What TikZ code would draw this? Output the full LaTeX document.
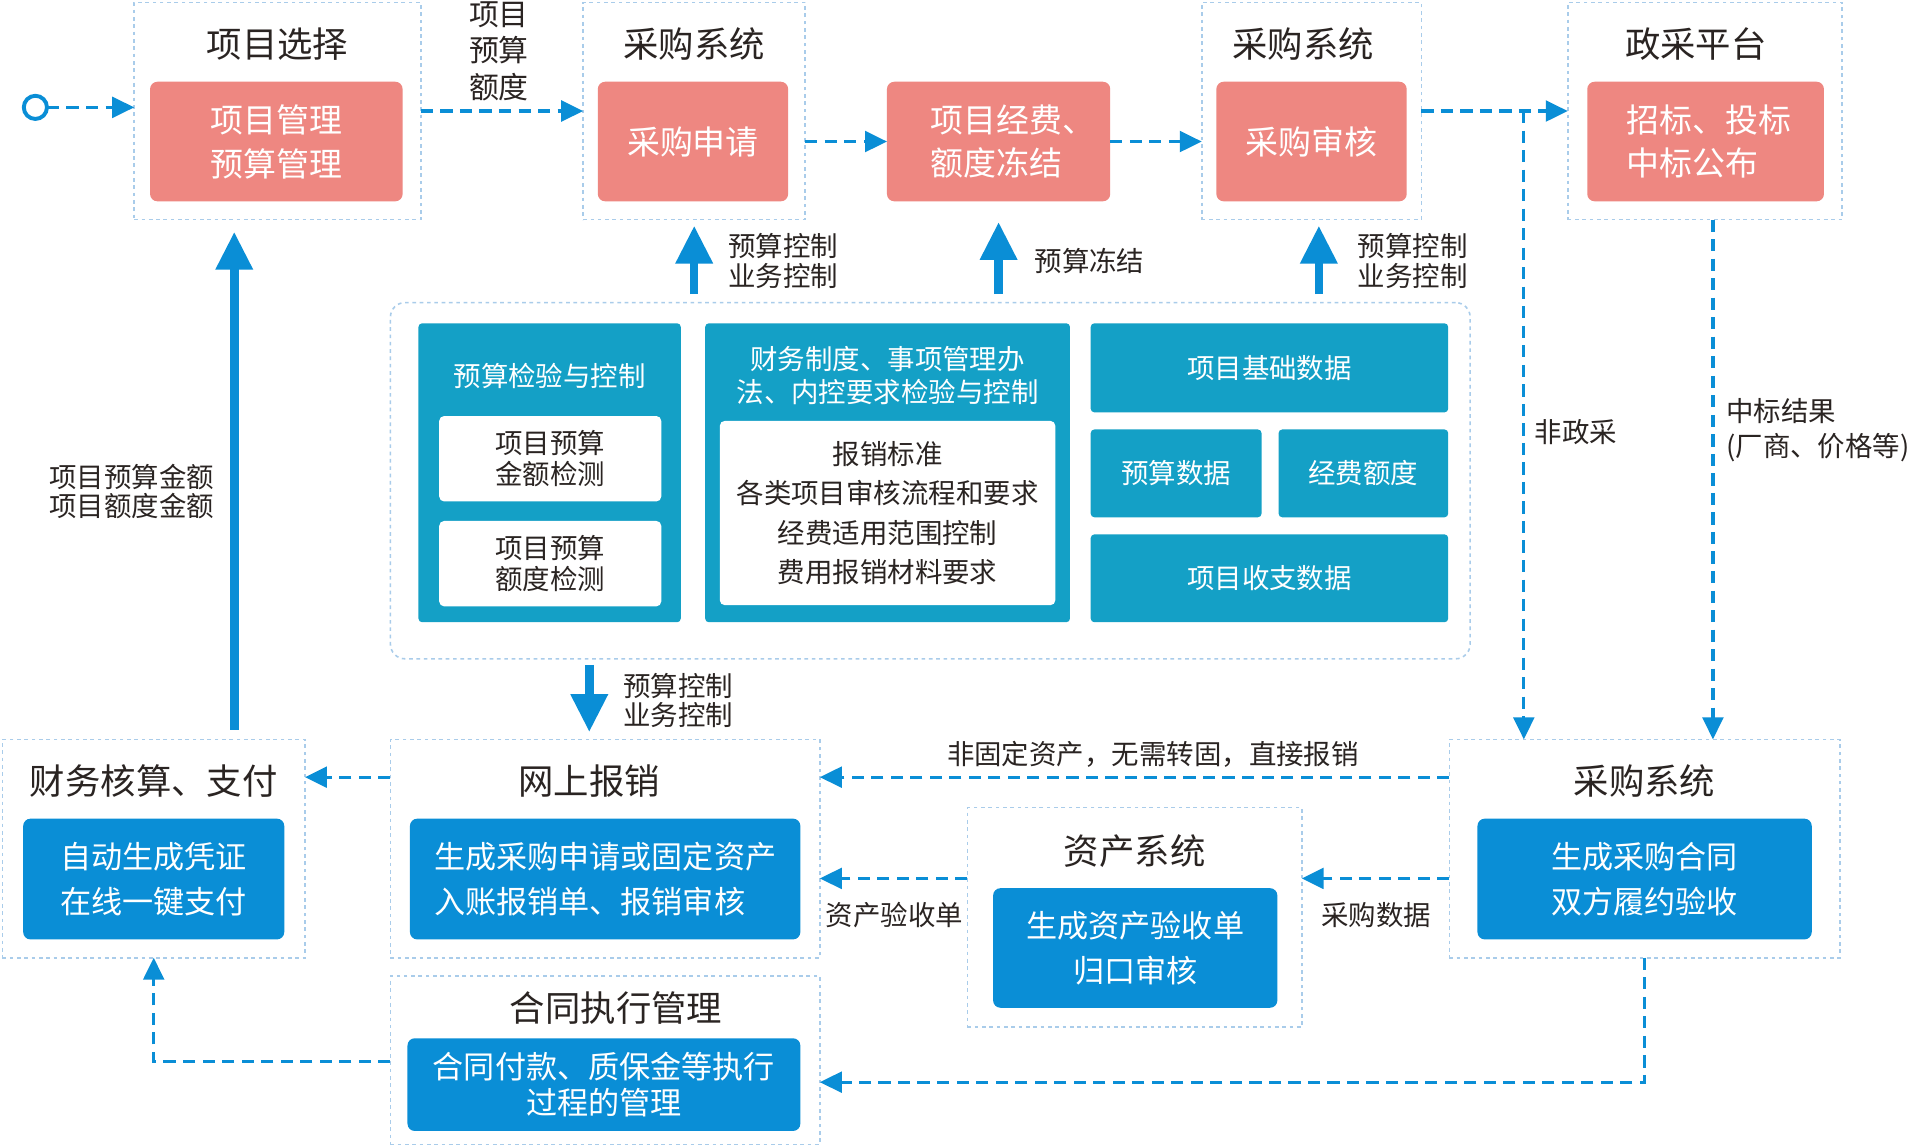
\documentclass[tikz,border=0pt]{standalone}
\usepackage{fontspec}
\setmainfont{Noto Sans CJK SC}
\usetikzlibrary{arrows.meta,calc}
\definecolor{pinkc}{HTML}{EE8781}
\definecolor{tealc}{HTML}{14A0C6}
\definecolor{bluec}{HTML}{0A8ED6}
\definecolor{arrc}{HTML}{0A8ED6}
\definecolor{framec}{HTML}{A9CCEA}
\definecolor{txtc}{HTML}{2A2422}
\newcommand\szT{\fontsize{29}{34}\selectfont}
\newcommand\szP{\fontsize{27}{36}\selectfont}
\newcommand\szB{\fontsize{25.5}{37}\selectfont}
\newcommand\szS{\fontsize{22.5}{24}\selectfont}
\begin{document}
\begin{tikzpicture}[x=1pt,y=-1pt,
  box/.style={rectangle, inner sep=0pt, outer sep=0pt, align=center},
  frame/.style={box, draw=framec, line width=1.3pt, dash pattern=on 3pt off 3pt},
  pinkbox/.style={box, fill=pinkc, rounded corners=6pt, text=white, font=\szP},
  tealbox/.style={box, fill=tealc, rounded corners=3pt, text=white, font=\szS},
  whitebox/.style={box, fill=white, rounded corners=4pt, text=txtc, font=\szS},
  bluebox/.style={box, fill=bluec, rounded corners=6pt, text=white, font=\szB},
  title/.style={box, text=txtc, font=\szT},
  lbl/.style={box, text=txtc, font=\szS},
  darr/.style={draw=arrc, line width=2.6pt, dash pattern=on 10pt off 6pt, -{Triangle[length=18pt,width=17pt]}},
  tarr/.style={draw=arrc, line width=7pt, -{Triangle[length=31pt,width=29pt]}},
]
\useasboundingbox[fill=white] (0,0) rectangle (1568,940);

% ---------- top row ----------
\node[frame, minimum width=235pt, minimum height=178pt] (f1) at (227.5,91) {};
\node[frame, minimum width=182pt, minimum height=178pt] (f2) at (569,91) {};
\node[frame, minimum width=180pt, minimum height=178pt] (f3) at (1075,91) {};
\node[frame, minimum width=225pt, minimum height=178pt] (f4) at (1397.5,91) {};
\node[title] (t1) at (227.5,36) {项目选择};
\node[title] (t2) at (569,36) {采购系统};
\node[title] (t3) at (1068,36) {采购系统};
\node[title] (t4) at (1390,36) {政采平台};
\node[pinkbox, minimum width=207pt, minimum height=98pt] (p1) at (226.5,116) {项目管理\\预算管理};
\node[pinkbox, minimum width=156pt, minimum height=98pt] (p2) at (568,116) {采购申请};
\node[pinkbox, minimum width=183pt, minimum height=98pt] (p3) at (818.5,116) {};
\node[box, text=white, font=\szP, align=left, anchor=west] (p3t) at (763,116) {项目经费、\\额度冻结};
\node[pinkbox, minimum width=156pt, minimum height=98pt] (p4) at (1075,116) {采购审核};
\node[pinkbox, minimum width=194pt, minimum height=98pt] (p5) at (1398,116) {};
\node[box, text=white, font=\szP, align=left, anchor=west] (p5t) at (1333,116) {招标、投标\\中标公布};
\node[circle, draw=arrc, line width=3.2pt, fill=white, minimum size=19pt, inner sep=0pt, outer sep=0pt] (st) at (29,88) {};

% ---------- middle ----------
\node[frame, rounded corners=12pt, minimum width=885pt, minimum height=292pt] (mid) at (762.5,394) {};
\node[tealbox, minimum width=215pt, minimum height=245pt] (tA) at (450.5,387.5) {};
\node[box, text=white, font=\szS] (tAt) at (450.5,308) {预算检验与控制};
\node[whitebox, minimum width=182pt, minimum height=70pt, font=\fontsize{22.5}{25.5}\selectfont] (wA1) at (451,376) {项目预算\\金额检测};
\node[whitebox, minimum width=182pt, minimum height=70pt, font=\fontsize{22.5}{25.5}\selectfont] (wA2) at (451,462) {项目预算\\额度检测};
\node[tealbox, minimum width=299pt, minimum height=245pt] (tB) at (727.5,387.5) {};
\node[box, text=white, font=\fontsize{22.5}{27}\selectfont] (tBt) at (727.5,307.5) {财务制度、事项管理办\\法、内控要求检验与控制};
\node[whitebox, minimum width=275pt, minimum height=151pt, font=\fontsize{22.5}{32.3}\selectfont] (wB) at (727.5,420.5) {报销标准\\各类项目审核流程和要求\\经费适用范围控制\\费用报销材料要求};
\node[tealbox, minimum width=293pt, minimum height=73pt] (tC) at (1040.5,301.5) {项目基础数据};
\node[tealbox, minimum width=140pt, minimum height=72pt] (tD) at (964,388) {预算数据};
\node[tealbox, minimum width=139pt, minimum height=72pt] (tE) at (1117.5,388) {经费额度};
\node[tealbox, minimum width=293pt, minimum height=72pt] (tF) at (1040.5,474) {项目收支数据};

% ---------- bottom ----------
\node[frame, minimum width=248pt, minimum height=179pt] (b1) at (126,695.5) {};
\node[title] (bt1) at (126,640) {财务核算、支付};
\node[bluebox, minimum width=214pt, minimum height=99pt] (bb1) at (126,720.5) {自动生成凭证\\在线一键支付};
\node[frame, minimum width=352pt, minimum height=179pt] (b2) at (496,695.5) {};
\node[title] (bt2) at (483,640) {网上报销};
\node[bluebox, minimum width=320pt, minimum height=99pt, align=left] (bb2) at (496,720.5) {生成采购申请或固定资产\\入账报销单、报销审核};
\node[frame, minimum width=352pt, minimum height=138pt] (b3) at (496,869) {};
\node[title] (bt3) at (505,826) {合同执行管理};
\node[bluebox, minimum width=322pt, minimum height=76pt, font=\fontsize{25.5}{29}\selectfont] (bb3) at (495,889) {合同付款、质保金等执行\\过程的管理};
\node[frame, minimum width=274pt, minimum height=180pt] (b4) at (930,752) {};
\node[title] (bt4) at (930,698) {资产系统};
\node[bluebox, minimum width=233pt, minimum height=98pt] (bb4) at (930.5,777) {生成资产验收单\\归口审核};
\node[frame, minimum width=320pt, minimum height=179pt] (b5) at (1348,695.5) {};
\node[title] (bt5) at (1348,640) {采购系统};
\node[bluebox, minimum width=274pt, minimum height=99pt] (bb5) at (1348,720.5) {生成采购合同\\双方履约验收};

% ---------- helper coordinates ----------
\coordinate (br) at (1249,91);
\coordinate (ya) at (0,637);
\coordinate (yb) at (0,720);
\coordinate (yc) at (0,887);
\coordinate (yd) at (0,870);

% ---------- dashed connectors ----------
\draw[darr] (st.east) -- (f1.west |- st.east);
\draw[darr] (f1.east) -- (f2.west);
\draw[darr] (f2.east |- p3.west) -- (p3.west);
\draw[darr] (p3.east) -- (f3.west |- p3.east);
\draw[darr] (f3.east) -- (f4.west);
\draw[darr] (br) -- (br |- b5.north);
\draw[darr] ([xshift=6.5pt]f4.south) -- ([xshift=6.5pt]f4.south |- b5.north);
\draw[darr] (b2.west |- ya) -- (b1.east |- ya);
\draw[darr] (b5.west |- ya) -- (b2.east |- ya);
\draw[darr] (b5.west |- yb) -- (b4.east |- yb);
\draw[darr] (b4.west |- yb) -- (b2.east |- yb);
\draw[darr] (b5.south) |- (b3.east |- yc);
\draw[darr] (b3.west |- yd) -| (b1.south);

% ---------- thick connectors ----------
\draw[tarr, shorten <=7pt, shorten >=5pt] (f2.south |- mid.north) -- (f2.south);
\draw[tarr, shorten <=7pt, shorten >=17pt] (p3.south |- mid.north) -- (p3.south);
\draw[tarr, shorten <=7pt, shorten >=5pt] ([xshift=6pt]f3.south |- mid.north) -- ([xshift=6pt]f3.south);
\draw[tarr, shorten <=5pt, shorten >=6pt] (bt2 |- mid.south) -- (bt2 |- b2.north);
\draw[tarr, shorten <=8pt, shorten >=10pt] ([xshift=66pt]b1.north) -- ([xshift=66pt]b1.north |- f1.south);

% ---------- labels ----------
\node[lbl, anchor=west, align=left] (l1) at (597,214) {预算控制\\业务控制};
\node[lbl, anchor=west] (l2) at (848,214) {预算冻结};
\node[lbl, anchor=west, align=left] (l3) at (1113,214) {预算控制\\业务控制};
\node[lbl, anchor=west, align=left] (l4) at (511,574) {预算控制\\业务控制};
\node[lbl] (l5) at (108,403) {项目预算金额\\项目额度金额};
\node[lbl, font=\fontsize{24.5}{30}\selectfont] (l6) at (409,42) {项目\\预算\\额度};
\node[lbl, anchor=west] (l7) at (1258,354) {非政采};
\node[lbl, anchor=west, align=left, font=\fontsize{22.5}{29}\selectfont] (l8) at (1415,352.5) {中标结果\\(厂商、价格等)};
\node[lbl] (l9) at (945,618) {非固定资产，无需转固，直接报销};
\node[lbl] (l10) at (1128,750) {采购数据};
\node[lbl] (l11) at (733,750) {资产验收单};
\end{tikzpicture}
\end{document}
